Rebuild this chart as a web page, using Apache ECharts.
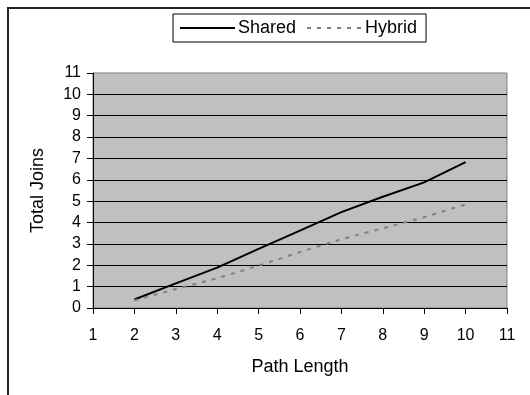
<!DOCTYPE html>
<html>
<head>
<meta charset="utf-8">
<script src="https://cdn.jsdelivr.net/npm/echarts@6/dist/echarts.min.js"></script>
<style>
html,body{margin:0;padding:0;background:#fff;}
#chart{width:530px;height:395px;}
</style>
</head>
<body>
<div id="chart"></div>
<script>
const pathLengths = [2, 3, 4, 5, 6, 7, 8, 9, 10];
const sharedJoins = [0.40, 1.15, 1.89, 2.77, 3.62, 4.49, 5.21, 5.88, 6.83];
const hybridJoins = [0.35, 0.89, 1.39, 1.98, 2.62, 3.22, 3.73, 4.25, 4.85];
const seriesNames = ['Shared', 'Hybrid'];

const font = 'Liberation Sans, Arial, sans-serif';
const chart = echarts.init(document.getElementById('chart'));
chart.setOption({
  animation: false,
  backgroundColor: '#ffffff',
  graphic: [{
    type: 'rect',
    shape: { x: 8, y: 8, width: 700, height: 700 },
    style: { fill: 'none', stroke: '#222', lineWidth: 2 },
    silent: true
  }],
  legend: {
    left: 173,
    top: 14,
    padding: [5, 9, 5, 6],
    itemWidth: 55,
    itemHeight: 18,
    itemGap: 10,
    borderColor: '#000',
    borderWidth: 1,
    backgroundColor: '#fff',
    itemStyle: { opacity: 0 },
    textStyle: { fontFamily: font, fontSize: 18, color: '#000', padding: [0, 0, 0, -2] },
    data: seriesNames
  },
  grid: {
    left: 93, right: 23, top: 73, bottom: 87,
    show: true,
    backgroundColor: '#c0c0c0',
    borderColor: '#808080',
    borderWidth: 1
  },
  xAxis: {
    type: 'value',
    min: 1, max: 11, interval: 1,
    name: 'Path Length',
    nameLocation: 'middle',
    nameGap: 50,
    nameTextStyle: { fontFamily: font, fontSize: 18, color: '#000' },
    axisLine: { show: true, lineStyle: { color: '#000', width: 1 } },
    axisTick: { show: true, inside: false, length: 6, lineStyle: { color: '#000' } },
    axisLabel: { fontFamily: font, fontSize: 16, color: '#000', margin: 20 },
    splitLine: { show: false }
  },
  yAxis: {
    type: 'value',
    min: 0, max: 11, interval: 1,
    name: 'Total Joins',
    nameLocation: 'middle',
    nameGap: 46,
    nameTextStyle: { fontFamily: font, fontSize: 18, color: '#000' },
    axisLine: { show: true, lineStyle: { color: '#000', width: 1 } },
    axisTick: { show: true, inside: false, length: 6, lineStyle: { color: '#000' } },
    axisLabel: { fontFamily: font, fontSize: 16, color: '#000', margin: 12 },
    splitLine: { show: true, showMaxLine: false, lineStyle: { color: '#000', width: 1 } }
  },
  series: [
    {
      name: seriesNames[0],
      type: 'line',
      data: pathLengths.map((x, i) => [x, sharedJoins[i]]),
      symbol: 'none',
      lineStyle: { color: '#000', width: 2 },
      itemStyle: { color: '#000' }
    },
    {
      name: seriesNames[1],
      type: 'line',
      data: pathLengths.map((x, i) => [x, hybridJoins[i]]),
      symbol: 'none',
      lineStyle: { color: '#808080', width: 2, type: [4, 6] },
      itemStyle: { color: '#808080' }
    }
  ]
});
</script>
</body>
</html>
